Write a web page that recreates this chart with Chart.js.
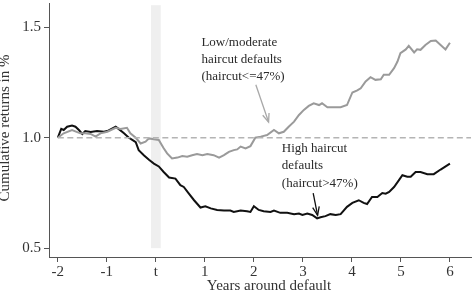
<!DOCTYPE html>
<html>
<head>
<meta charset="utf-8">
<script src="https://cdn.jsdelivr.net/npm/chart.js@4.4.1/dist/chart.umd.min.js"></script>
<style>
html,body{margin:0;padding:0;background:#fff;}
#wrap{width:474px;height:305px;position:relative;}
</style>
</head>
<body>
<div id="wrap"><canvas id="c" width="474" height="305"></canvas></div>
<script>
// Years around default (t = 0)
const highX = [-2.00,-1.93,-1.88,-1.81,-1.71,-1.64,-1.57,-1.50,-1.44,-1.33,-1.20,-1.06,-0.99,-0.82,-0.76,-0.65,-0.55,-0.48,-0.41,-0.35,-0.24,-0.14,-0.04,0.06,0.16,0.27,0.40,0.50,0.57,0.67,0.78,0.91,1.01,1.12,1.25,1.39,1.52,1.59,1.73,1.86,1.93,2.00,2.10,2.20,2.34,2.41,2.54,2.68,2.82,2.92,2.99,3.09,3.19,3.29,3.36,3.46,3.56,3.67,3.77,3.90,4.01,4.14,4.24,4.31,4.41,4.52,4.62,4.69,4.76,4.86,4.96,5.03,5.13,5.20,5.30,5.40,5.54,5.67,5.81,6.00];
const highY = [1.00,1.04,1.035,1.05,1.055,1.05,1.035,1.017,1.03,1.026,1.03,1.027,1.03,1.05,1.04,1.02,1.00,0.99,0.98,0.944,0.92,0.90,0.883,0.87,0.845,0.82,0.815,0.785,0.777,0.748,0.717,0.684,0.69,0.68,0.673,0.67,0.67,0.664,0.67,0.667,0.664,0.69,0.673,0.667,0.664,0.67,0.66,0.66,0.654,0.657,0.65,0.657,0.65,0.635,0.64,0.645,0.654,0.65,0.654,0.687,0.705,0.717,0.705,0.70,0.732,0.732,0.75,0.747,0.755,0.777,0.808,0.83,0.823,0.823,0.845,0.845,0.835,0.835,0.856,0.883];
const lowX = [-2.00,-1.88,-1.71,-1.54,-1.44,-1.33,-1.23,-1.13,-0.99,-0.82,-0.72,-0.59,-0.52,-0.41,-0.31,-0.21,-0.14,-0.04,0.06,0.16,0.23,0.33,0.44,0.54,0.64,0.74,0.84,0.95,1.05,1.18,1.29,1.39,1.49,1.59,1.66,1.73,1.83,1.93,2.03,2.14,2.27,2.41,2.51,2.61,2.71,2.82,2.92,3.02,3.12,3.22,3.33,3.39,3.50,3.63,3.77,3.90,4.01,4.11,4.18,4.28,4.38,4.48,4.59,4.65,4.76,4.86,4.93,4.99,5.10,5.16,5.27,5.33,5.40,5.50,5.61,5.71,5.81,5.91,6.00];
const lowY = [1.00,1.02,1.035,1.02,1.02,1.017,1.005,1.02,1.027,1.045,1.04,1.045,1.02,1.00,0.974,0.982,0.997,0.993,0.99,0.952,0.929,0.906,0.91,0.917,0.914,0.921,0.926,0.921,0.926,0.921,0.91,0.921,0.936,0.944,0.947,0.96,0.952,0.962,1.00,1.005,1.012,1.035,1.02,1.027,1.05,1.073,1.103,1.126,1.144,1.156,1.148,1.156,1.138,1.138,1.138,1.148,1.205,1.214,1.224,1.255,1.274,1.262,1.265,1.285,1.285,1.315,1.345,1.383,1.40,1.416,1.386,1.40,1.398,1.42,1.438,1.44,1.42,1.40,1.43];
const xTicks = [-2,-1,0,1,2,3,4,5,6];
const xTickLabels = ['-2','-1','t','1','2','3','4','5','6'];
const yTicks = [0.5,1.0,1.5];
const refLevel = 1.0;
const lowLabel = ['Low/moderate','haircut defaults','(haircut<=47%)'];
const highLabel = ['High haircut','defaults','(haircut>47%)'];

const SERIF = '"Liberation Serif","DejaVu Serif",serif';
const toPts = (xs, ys) => xs.map((x, i) => ({x: x, y: ys[i]}));

const decorPlugin = {
  id: 'decor',
  beforeDatasetsDraw(chart) {
    const {ctx, scales: {x, y}} = chart;
    const x0 = x.getPixelForValue(-0.1), x1 = x.getPixelForValue(0.1);
    const y0 = y.getPixelForValue(1.6), y1 = y.getPixelForValue(0.5);
    ctx.save();
    ctx.fillStyle = '#efefef';
    ctx.fillRect(x0, y0, x1 - x0, y1 - y0);
    ctx.restore();
  },
  afterDraw(chart) {
    const {ctx, scales: {x, y}} = chart;
    ctx.save();
    ctx.fillStyle = '#2a2a2a';
    ctx.font = '13px ' + SERIF;
    ctx.textBaseline = 'middle';
    ctx.textAlign = 'left';
    let lx = x.getPixelForValue(0.93), ly = y.getPixelForValue(1.43);
    lowLabel.forEach((t, i) => ctx.fillText(t, lx, ly + i * 17));
    let hx = x.getPixelForValue(2.57), hy = y.getPixelForValue(0.953);
    highLabel.forEach((t, i) => ctx.fillText(t, hx, hy + i * 17.5));

    function arrow(xa, ya, xb, yb, color) {
      const p0 = {x: x.getPixelForValue(xa), y: y.getPixelForValue(ya)};
      const p1 = {x: x.getPixelForValue(xb), y: y.getPixelForValue(yb)};
      const ang = Math.atan2(p1.y - p0.y, p1.x - p0.x);
      ctx.strokeStyle = color; ctx.lineWidth = 1.3;
      ctx.beginPath(); ctx.moveTo(p0.x, p0.y); ctx.lineTo(p1.x, p1.y); ctx.stroke();
      const L = 9, a = 0.38;
      ctx.beginPath();
      ctx.moveTo(p1.x - L * Math.cos(ang - a), p1.y - L * Math.sin(ang - a));
      ctx.lineTo(p1.x, p1.y);
      ctx.lineTo(p1.x - L * Math.cos(ang + a), p1.y - L * Math.sin(ang + a));
      ctx.stroke();
    }
    arrow(2.04, 1.24, 2.30, 1.071, '#a8a8a8');
    arrow(3.21, 0.749, 3.30, 0.649, '#111');

    ctx.fillStyle = '#333';
    ctx.font = '15px ' + SERIF;
    ctx.textAlign = 'center';
    ctx.textBaseline = 'middle';
    ctx.fillText('Years around default', 269, 286);
    ctx.translate(5, 128);
    ctx.rotate(-Math.PI / 2);
    ctx.fillText('Cumulative returns in %', 0, 0);
    ctx.restore();
  }
};

new Chart(document.getElementById('c'), {
  type: 'line',
  data: {
    datasets: [
      {label: 'ref', data: [{x: -2, y: refLevel}, {x: 6.43, y: refLevel}], borderColor: '#b4b4b4', borderWidth: 1.3, borderDash: [6, 3.5], pointRadius: 0},
      {label: 'Low/moderate haircut', data: toPts(lowX, lowY), borderColor: '#9a9a9a', borderWidth: 2, pointRadius: 0, tension: 0},
      {label: 'High haircut', data: toPts(highX, highY), borderColor: '#111', borderWidth: 2, pointRadius: 0, tension: 0}
    ]
  },
  options: {
    responsive: false,
    animation: false,
    layout: {padding: {top: 3, right: 3, left: 0, bottom: 0}},
    plugins: {legend: {display: false}, tooltip: {enabled: false}},
    scales: {
      x: {
        type: 'linear', min: -2.18, max: 6.43,
        afterBuildTicks: s => { s.ticks = xTicks.map(v => ({value: v})); },
        afterFit: s => { s.height = 48; s.paddingLeft = 0; s.paddingRight = 0; },
        ticks: {
          callback: v => xTickLabels[xTicks.indexOf(v)],
          font: {family: SERIF, size: 15}, color: '#333', padding: 1, maxRotation: 0, autoSkip: false
        },
        grid: {display: true, drawOnChartArea: false, drawTicks: true, tickLength: 5, color: '#555'},
        border: {display: true, color: '#555', width: 1}
      },
      y: {
        type: 'linear', min: 0.46, max: 1.61,
        afterBuildTicks: s => { s.ticks = yTicks.map(v => ({value: v})); },
        afterFit: s => { s.width = 49; s.paddingTop = 0; s.paddingBottom = 0; },
        ticks: {
          callback: v => v.toFixed(1),
          font: {family: SERIF, size: 15}, color: '#333', padding: 3
        },
        grid: {display: true, drawOnChartArea: false, drawTicks: true, tickLength: 5, color: '#555'},
        border: {display: true, color: '#555', width: 1}
      }
    }
  },
  plugins: [decorPlugin]
});
</script>
</body>
</html>
